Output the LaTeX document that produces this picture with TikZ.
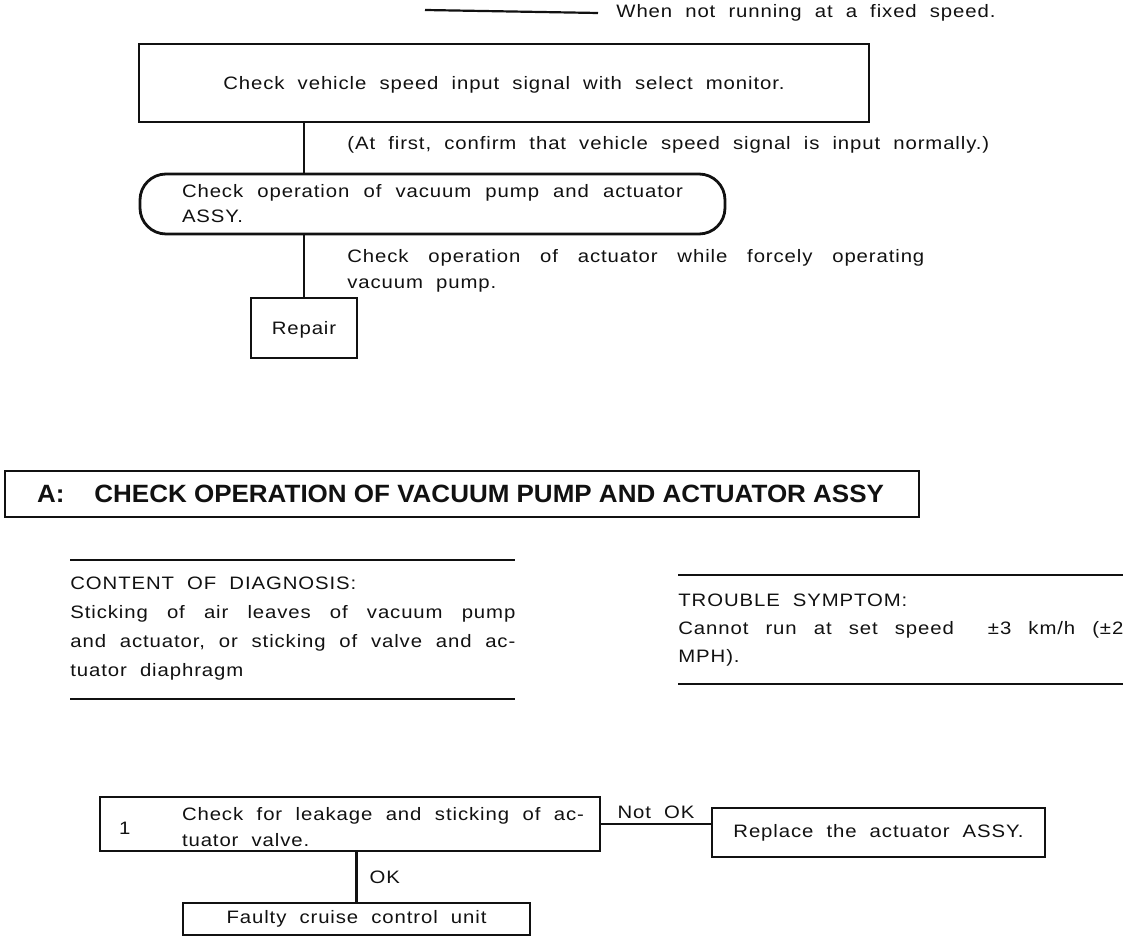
\documentclass[tikz,border=0pt]{standalone}
\usepackage{xcolor}
\usepackage{fontspec}
\setmainfont{Liberation Sans}[FakeStretch=1.13, LetterSpace=5, WordSpace=2]
\newfontfamily\headfont{Liberation Sans}[FakeStretch=1.04]
\usepackage{tikz}
\usetikzlibrary{positioning}
\definecolor{inkblack}{HTML}{111111}

\begin{document}
\begin{tikzpicture}[x=0.5pt, y=-0.5pt,
    every node/.style={font=\fontsize{9}{14}\selectfont, text=inkblack},
    chart/.style={draw=inkblack, line width=1.4pt},
    plainbox/.style={chart, rectangle, inner sep=0pt},
    note/.style={inner sep=0pt, align=flush left},
    block/.style={inner sep=0pt, align=justify},
    link/.style={draw=inkblack, line width=1.1pt},
    rule/.style={draw=inkblack, line width=1.1pt}]
  \useasboundingbox (0,0) rectangle (1136,940);

  % legend line at the top
  \node[note, anchor=west] (legend) at (616,13) {When not running at a fixed speed.};
  \coordinate (legstart) at (425,10);
  \draw[link] (legstart) -- ([xshift=-9pt]legend.west);

  % first check sequence
  \node[plainbox, minimum width=365pt, minimum height=39pt, text depth=0pt] (speedchk) at (504,83)
    {Check vehicle speed input signal with select monitor.};
  \node[chart, rounded corners=13pt, minimum height=30pt, text width=250.5pt,
        inner xsep=21pt, inner ysep=0pt, align=justify,
        font=\fontsize{9}{12.5}\selectfont] (pumpchk) at (432.5,204)
    {Check operation of vacuum pump and actuator\linebreak ASSY.};
  \node[plainbox, minimum width=53pt, minimum height=30pt, text depth=0pt] (repair) at (304,328) {Repair};
  \node[block, anchor=west, text width=349pt] (firstnote) at (347,145)
    {\parfillskip=0pt (At first, confirm that vehicle speed signal is input normally.)};
  \node[block, anchor=west, text width=288.5pt, font=\fontsize{9}{13}\selectfont] (forcenote) at (347,271)
    {Check operation of actuator while forcely operating\linebreak vacuum pump.};
  \draw[link] (speedchk.south -| repair.north) -- (pumpchk.north -| repair.north);
  \draw[link] (pumpchk.south -| repair.north) -- (repair.north);

  % section heading
  \node[plainbox, minimum height=23pt, text width=425pt, inner xsep=16pt, align=flush left,
        font=\headfont\bfseries\fontsize{12.5}{14}\selectfont] (title) at (462,494)
    {A:\hspace{15pt}CHECK OPERATION OF VACUUM PUMP AND ACTUATOR ASSY};

  % diagnosis and symptom
  \node[block, anchor=north west, text width=222.5pt, font=\fontsize{9}{14.5}\selectfont] (diagnosis) at (70,577)
    {CONTENT OF DIAGNOSIS:\\Sticking of air leaves of vacuum pump\linebreak and actuator, or sticking of valve and ac-\linebreak tuator diaphragm};
  \node[block, anchor=north west, text width=222.5pt] (symptom) at (678,594)
    {TROUBLE SYMPTOM:\\Cannot run at set speed \ ±3 km/h (±2\linebreak MPH).};
  \draw[rule] (70,560) -- (515,560);
  \draw[rule] (70,699) -- (515,699);
  \draw[rule] (678,575) -- (1123,575);
  \draw[rule] (678,684) -- (1123,684);

  % step 1
  \node[plainbox, minimum width=250pt, minimum height=27pt] (step) at (350,824) {};
  \node[note, right=10pt of step.west, yshift=-2pt] (stepno) {1};
  \node[block, right=41.5pt of step.west, yshift=-1.5pt, text width=201pt,
        font=\fontsize{9}{13}\selectfont] (steptext)
    {Check for leakage and sticking of ac-\linebreak tuator valve.};
  \node[plainbox, minimum width=166.5pt, minimum height=24.5pt] (replace) at (878.5,832.5)
    {Replace the actuator ASSY.};
  \node[plainbox, minimum width=173.5pt, minimum height=16pt] (faulty) at (356.5,919)
    {Faulty cruise control unit};
  \draw[link] (step.east) -- (step.east -| replace.west)
    node[midway, above=2pt, note] {Not OK};
  \draw[link] (step.south -| faulty.north) -- (faulty.north)
    node[midway, right=6pt, note] {OK};
\end{tikzpicture}
\end{document}
